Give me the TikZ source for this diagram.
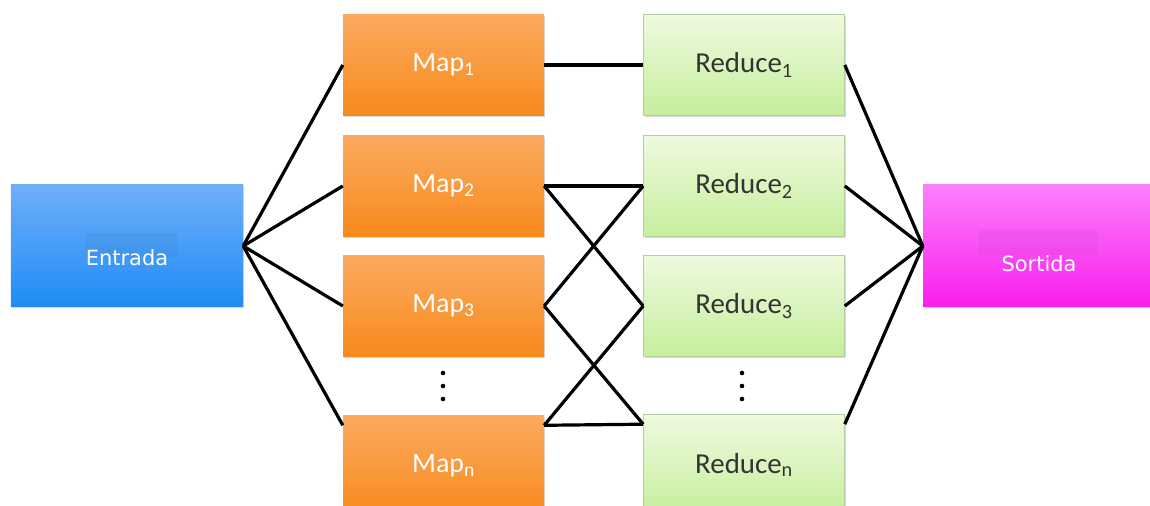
\documentclass[tikz,border=0pt]{standalone}
\usepackage{fontspec}
\usepackage{tikz}
\usetikzlibrary{positioning,calc,shadows}
\newfontfamily\boxfont{Carlito}
\newfontfamily\iofont{DejaVu Sans}
\definecolor{intop}{HTML}{70AEFA}
\definecolor{inbot}{HTML}{1E8CF5}
\definecolor{maptop}{HTML}{FCAA60}
\definecolor{mapbot}{HTML}{F78A1C}
\definecolor{redtop}{HTML}{EEFADF}
\definecolor{redbot}{HTML}{C6EE9C}
\definecolor{redline}{HTML}{B4CFA0}
\definecolor{outtop}{HTML}{FC80FC}
\definecolor{outbot}{HTML}{F91EEE}

\begin{document}
\begin{tikzpicture}[x=1bp,y=-1bp,
    box/.style={minimum width=201bp,minimum height=101bp,inner sep=0pt,
      drop shadow={shadow xshift=1.2bp,shadow yshift=-1.5bp,opacity=0.3}},
    mapbox/.style={box,top color=maptop,bottom color=mapbot,text=white,
      font=\boxfont\fontsize{28}{30}\selectfont},
    redbox/.style={box,top color=redtop,bottom color=redbot,draw=redline,
      line width=0.6bp,text=black!80,font=\boxfont\fontsize{29}{32}\selectfont},
    iobox/.style={box,minimum width=232bp,minimum height=122bp},
    iotext/.style={text=white,font=\iofont\fontsize{21}{24}\selectfont,inner sep=0pt},
    link/.style={line width=3.2bp,black}]
    \clip (0,0) rectangle (1150,506);
    % Input and output
    \node[iobox,top color=intop,bottom color=inbot] (entrada) at (127,246) {};
    \node[iobox,top color=outtop,bottom color=outbot] (sortida) at (1039,246) {};
    \fill[black,fill opacity=0.035] (85,233) rectangle (177,257);
    \fill[black,fill opacity=0.035] (979,230) rectangle (1098,255);
    \node[iotext] (entradatxt) at ($(entrada.center)+(0,12)$) {Entrada};
    \node[iotext] (sortidatxt) at ($(sortida.center)+(0,18)$) {Sortida};
    % Map column
    \node[mapbox] (map1) at (443.5,65) {Map\textsubscript{1}};
    \node[mapbox] (map2) at (443.5,186) {Map\textsubscript{2}};
    \node[mapbox] (map3) at (443.5,306) {Map\textsubscript{3}};
    \node[mapbox] (mapn) at (443.5,466) {Map\textsubscript{n}};
    % Reduce column
    \node[redbox] (red1) at (744,65) {Reduce\textsubscript{1}};
    \node[redbox] (red2) at (744,186) {Reduce\textsubscript{2}};
    \node[redbox] (red3) at (744,306) {Reduce\textsubscript{3}};
    \node[redbox] (redn) at (744,465) {Reduce\textsubscript{n}};
    \coordinate (mapnin) at ($(mapn.north west)+(0,10)$);
    \coordinate (mapnout) at ($(mapn.north east)+(0,10)$);
    \coordinate (rednin) at ($(redn.north west)+(0,10)$);
    \coordinate (rednout) at ($(redn.north east)+(0,10)$);
    \foreach \y in {373,386,399} {
      \fill (443,\y) circle (2.3bp);
      \fill (742,\y) circle (2.3bp);
    }
    % Links
    \foreach \m in {map1.west,map2.west,map3.west,mapnin}
      \draw[link] (entrada.east) -- (\m);
    \foreach \r in {red1.east,red2.east,red3.east,rednout}
      \draw[link] (\r) -- (sortida.west);
    \draw[link] (map1.east) -- (red1.west);
    \draw[link] (map2.east) -- (red2.west);
    \draw[link] (map2.east) -- (red3.west);
    \draw[link] (red2.west) -- (map3.east);
    \draw[link] (map3.east) -- (rednin);
    \draw[link] (red3.west) -- (mapnout);
    \draw[link] (mapnout) -- (rednin);
  \end{tikzpicture}
\end{document}
